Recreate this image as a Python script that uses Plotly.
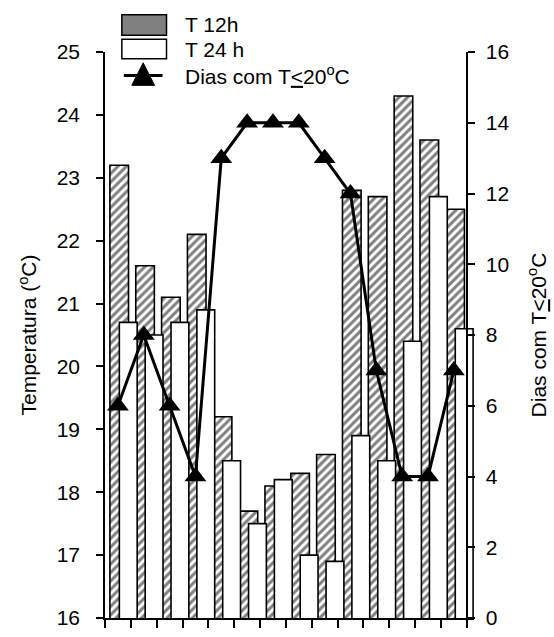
import plotly.graph_objects as go

# ---- data ----
periods = list(range(1, 15))  # 14 periods
t12 = [23.2, 21.6, 21.1, 22.1, 19.2, 17.7, 18.1, 18.3, 18.6, 22.8, 22.7, 24.3, 23.6, 22.5]
t24 = [20.7, 20.5, 20.7, 20.9, 18.5, 17.5, 18.2, 17.0, 16.9, 18.9, 18.5, 20.4, 22.7, 20.6]
dias = [6, 8, 6, 4, 13, 14, 14, 14, 13, 12, 7, 4, 4, 7]
left_ticks = list(range(16, 26))
right_ticks = list(range(0, 17, 2))
x_bounds = list(range(0, 15))

FONT = "Liberation Sans, Arial, sans-serif"
FS = 21
W, H = 554, 637
L, R, T, B = 105, 77, 52, 8
XMAX = 14.28

def px(x):
    return (x - L) / (W - L - R)

def py(y):
    return (H - B - y) / (H - T - B)

xs = [p - 0.5 for p in periods]

fig = go.Figure()
fig.add_trace(go.Bar(
    x=xs, y=t12, width=0.72, offset=-0.31, name="T 12h", showlegend=False,
    marker=dict(color="white",
                pattern=dict(shape="/", fgcolor="black", bgcolor="white", size=6, solidity=0.5),
                line=dict(color="black", width=1.6)),
))
fig.add_trace(go.Bar(
    x=xs, y=t24, width=0.69, offset=0.055, name="T 24 h", showlegend=False,
    marker=dict(color="white", line=dict(color="black", width=1.6)),
))
fig.add_trace(go.Scatter(
    x=xs, y=dias, yaxis="y2", mode="lines+markers", name="Dias com T≤20°C", showlegend=False,
    line=dict(color="black", width=3),
    marker=dict(symbol="triangle-up", size=19, color="black"),
))

axis_common = dict(showgrid=False, zeroline=False, showline=True, linecolor="black",
                   linewidth=1.5, ticks="outside", tickcolor="black", tickwidth=1.5,
                   tickfont=dict(family=FONT, size=FS, color="black"))

fig.update_layout(
    width=W, height=H,
    margin=dict(l=L, r=R, t=T, b=B, pad=0),
    paper_bgcolor="white", plot_bgcolor="white",
    barmode="overlay",
    font=dict(family=FONT, size=FS, color="black"),
    xaxis=dict(range=[0, XMAX], tickvals=x_bounds, showticklabels=False, ticklen=8,
               **axis_common),
    yaxis=dict(range=[16, 25], tickvals=left_ticks, ticklen=7, ticklabelstandoff=12,
               title=dict(text="Temperatura (<sup>o</sup>C)", font=dict(family=FONT, size=FS), standoff=14),
               **axis_common),
    yaxis2=dict(range=[0, 16], tickvals=right_ticks, overlaying="y", side="right",
                anchor="free", position=14 / XMAX, ticklen=7, ticklabelstandoff=7,
                title=dict(text="Dias com T<u>&lt;</u>20<sup>o</sup>C", font=dict(family=FONT, size=FS), standoff=22),
                **axis_common),
)

# ---- legend drawn by hand ----
shapes = []
shapes.append(dict(type="rect", xref="paper", yref="paper", x0=px(122), x1=px(167), y0=py(35), y1=py(14),
                   fillcolor="#808080", line=dict(color="black", width=1.5)))
shapes.append(dict(type="rect", xref="paper", yref="paper", x0=px(122), x1=px(167), y0=py(59), y1=py(39),
                   fillcolor="white", line=dict(color="black", width=1.5)))
shapes.append(dict(type="line", xref="paper", yref="paper", x0=px(124), x1=px(163), y0=py(76), y1=py(76),
                   line=dict(color="black", width=3)))
tri = f"M {px(132)},{py(86)} L {px(155)},{py(86)} L {px(143.5)},{py(63)} Z"
shapes.append(dict(type="path", xref="paper", yref="paper", path=tri, fillcolor="black",
                   line=dict(color="black", width=1)))
fig.update_layout(shapes=shapes)

for txt, yc in [("T 12h", 24), ("T 24 h", 49), ("Dias com T<u>&lt;</u>20<sup>o</sup>C", 75)]:
    fig.add_annotation(text=txt, xref="paper", yref="paper", x=px(184), y=py(yc),
                       xanchor="left", yanchor="middle", showarrow=False,
                       font=dict(family=FONT, size=FS, color="black"))

fig.write_html("out.html")
